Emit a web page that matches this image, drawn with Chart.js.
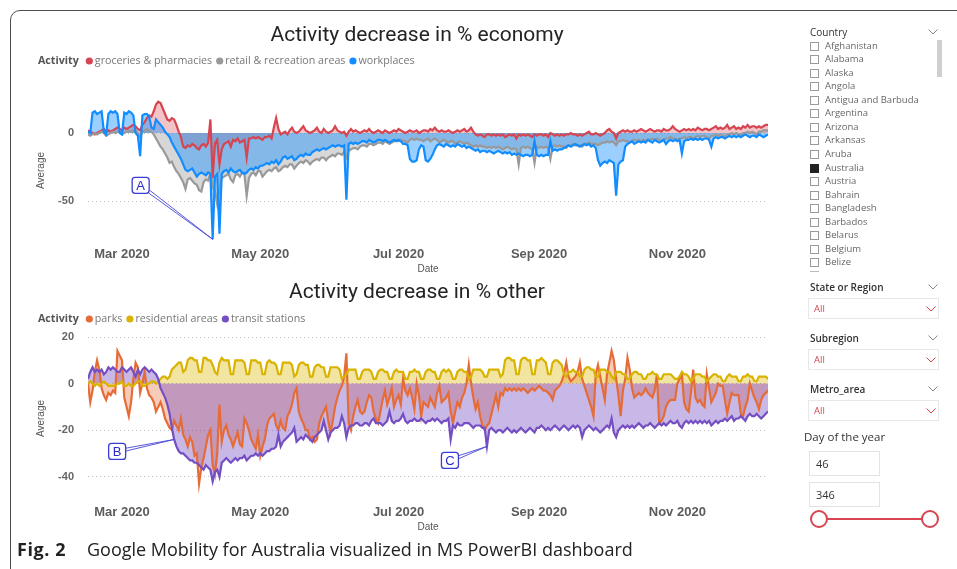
<!DOCTYPE html>
<html>
<head>
<meta charset="utf-8">
<script src="https://cdn.jsdelivr.net/npm/chart.js@4.4.1/dist/chart.umd.min.js"></script>
<style>
  body { margin: 0; width: 957px; height: 569px; background: #fff; position: relative; overflow: hidden; font-family: "Open Sans", sans-serif; }
  #frame { position: absolute; left: 10px; top: 10px; width: 1000px; height: 620px; border: 1.5px solid #4d4d4d; border-radius: 10px; box-sizing: border-box; }
  canvas { position: absolute; left: 20px; }
  #topChart { top: 18px; }
  #bottomChart { top: 280px; }
  .abs { position: absolute; white-space: nowrap; }
  .chev { position: absolute; line-height: 0; }
  .chev svg { display: block; }
  .hdr { font-size: 10px; color: #333; font-weight: 600; }
  .item { font-size: 9.5px; color: #666; line-height: 12px; }
  .box { position: absolute; width: 9px; height: 9px; border: 1px solid #9a9a9a; box-sizing: border-box; }
  .drop { position: absolute; left: 808px; width: 131px; height: 21px; border: 1px solid #e8e8e8; box-sizing: border-box; }
  .drop span { position: absolute; left: 5px; top: 3px; font-size: 9.5px; color: #d64550; }
  .input { position: absolute; left: 809px; width: 71px; height: 25px; border: 1px solid #e3e3e3; box-sizing: border-box; font-size: 11px; color: #333; padding: 4px 6px; }
  #cap { left: 17px; top: 537px; font-size: 18px; color: #222; }
  #cap b { display: inline-block; width: 70px; letter-spacing: 0.6px; }
</style>
</head>
<body>
<div id="frame"></div>
<canvas id="topChart" width="794" height="262"></canvas>
<canvas id="bottomChart" width="794" height="260"></canvas>
<div id="side"></div>
<div id="cap" class="abs"><b>Fig. 2</b>Google Mobility for Australia visualized in MS PowerBI dashboard</div>
<script>
// ---- data: daily values, day of year 46 (15 Feb) .. 346 (11 Dec), one week per row ----
const startDay = 46;
const tickDays = [61, 122, 183, 245, 306];
const tickLabels = ['Mar 2020', 'May 2020', 'Jul 2020', 'Sep 2020', 'Nov 2020'];
const economyTicks = [0, -50];
const otherTicks = [20, 0, -20, -40];

const groceries = [
  2, 1, 0, -1, 0, 1, 2,
  3, 1, 2, 1, 2, 3, 4,
  3, 2, 4, 3, 4, 5, 6,
  5, 3, 2, 6, 8, 11, 13,
  12, 16, 21, 23, 22, 18, 14,
  10, 9, 11, 10, 6, 1, -3,
  -10, -11, -9, -10, -8, -9, -11,
  -12, -9, -8, -10, -7, 10, -33,
  -8, -5, -23, -12, -8, -7, -6,
  -10, -5, -6, -4, -7, -6, -5,
  -18, -4, -4, -3, -4, -3, -4,
  -5, -3, -3, -2, -4, 4, 11,
  3, -1, 0, 1, -1, 2, 4,
  1, 0, 1, 3, 5, 2, 1,
  0, 1, 2, 4, 1, 0, 3,
  1, 0, 1, 2, 5, 2, 1,
  0, 1, -2, 1, 3, 1, 2,
  1, 0, 1, 2, 1, 3, 1,
  0, 1, 2, 1, 0, 2, 1,
  0, 1, 2, 1, 3, 2, 1,
  0, 1, 2, 1, 1, 2, 0,
  1, 2, 2, 1, 3, 2, 4,
  2, 1, 2, 1, 1, 2, 1,
  0, 1, 2, 1, 2, 3, 1,
  2, 4, 1, -1, -2, -1, -2,
  -3, -1, -1, -2, -1, -2, -1,
  -2, -1, -3, -2, -1, -2, -1,
  -4, -1, -2, -1, -2, -1, -2,
  -3, -1, -2, -1, -1, -2, -1,
  -3, 0, -1, -2, -1, -2, -1,
  -2, -1, -1, 0, -1, -1, -2,
  -1, -2, -1, 0, 1, -1, -1,
  0, -1, -2, -1, 0, 2, 3,
  1, 0, -4, 0, 1, 2, 1,
  2, 1, 1, 2, 1, 2, 3,
  2, 1, 2, 3, 2, 1, 2,
  2, 1, 3, 2, 2, 3, 5,
  3, 2, 1, 2, 3, 2, 3,
  2, 3, 2, 4, 3, 2, 3,
  3, 2, 3, 4, 5, 3, 4,
  3, 4, 6, 3, 4, 5, 3,
  4, 3, 5, 4, 6, 4, 5,
  5, 4, 5, 4, 5, 6, 6
];

const retail = [
  -1, -2, -1, 0, -1, 0, 1,
  0, -2, -1, 0, 1, 0, 1,
  1, -1, 0, 1, 2, 1, 2,
  2, 0, -3, 1, 2, 3, 2,
  1, -1, -4, -7, -10, -12, -15,
  -18, -22, -21, -25, -28, -30, -33,
  -36, -41, -34, -33, -35, -37, -38,
  -42, -43, -36, -34, -35, -30, -40,
  -42, -52, -40, -33, -32, -31, -30,
  -34, -36, -31, -30, -32, -29, -30,
  -46, -33, -30, -29, -31, -28, -28,
  -32, -30, -28, -27, -28, -26, -25,
  -28, -27, -25, -24, -25, -23, -23,
  -26, -24, -22, -21, -22, -20, -21,
  -23, -21, -20, -19, -20, -18, -18,
  -20, -18, -17, -16, -17, -15, -15,
  -16, -14, -18, -13, -12, -11, -11,
  -12, -10, -9, -9, -10, -8, -8,
  -9, -8, -7, -7, -8, -6, -7,
  -8, -7, -6, -5, -6, -5, -6,
  -6, -7, -5, -4, -5, -4, -5,
  -5, -6, -5, -4, -6, -5, -4,
  -5, -7, -6, -5, -6, -7, -6,
  -6, -8, -7, -6, -7, -8, -7,
  -8, -9, -10, -9, -10, -9, -10,
  -10, -11, -10, -11, -10, -11, -10,
  -11, -12, -11, -10, -11, -12, -11,
  -12, -23, -11, -10, -11, -10, -11,
  -12, -22, -10, -11, -10, -11, -10,
  -11, -19, -10, -9, -10, -9, -10,
  -10, -11, -9, -9, -8, -9, -9,
  -9, -10, -8, -8, -7, -8, -8,
  -8, -9, -8, -7, -7, -6, -7,
  -6, -7, -9, -6, -6, -5, -6,
  -6, -7, -6, -5, -6, -5, -6,
  -5, -6, -5, -5, -4, -5, -4,
  -5, -6, -5, -4, -4, -3, -4,
  -4, -5, -4, -4, -3, -4, -3,
  -3, -4, -3, -2, -3, -2, -2,
  -3, -4, -2, -2, -1, -2, -1,
  -2, -3, -1, -1, 0, -1, 0,
  -1, -2, 0, 0, 1, 0, 1,
  0, -1, 1, 1, 2, 2, 2
];

const workplaces = [
  1, 0, 15, 16, 14, 15, 16,
  1, -1, 14, 16, 15, 16, 14,
  0, -1, 15, 14, 16, 15, 13,
  0, -2, -17, 13, 14, 14, 12,
  4, 3, 10, 8, 6, 4, 1,
  -1, -3, -7, -10, -13, -16, -19,
  -23, -27, -28, -27, -26, -29, -32,
  -30, -29, -30, -31, -29, -30, -78,
  -32, -30, -74, -30, -28, -27, -29,
  -26, -28, -29, -28, -27, -29, -30,
  -29, -27, -26, -27, -25, -26, -24,
  -24, -23, -22, -23, -21, -22, -20,
  -23, -21, -18, -17, -19, -18, -17,
  -20, -19, -17, -16, -17, -15, -16,
  -16, -14, -13, -12, -13, -12, -11,
  -12, -11, -10, -9, -10, -9, -9,
  -10, -9, -49, -8, -7, -8, -7,
  -8, -7, -6, -6, -7, -5, -6,
  -7, -6, -5, -5, -6, -5, -6,
  -7, -6, -5, -6, -5, -6, -8,
  -8, -9, -19, -21, -21, -20, -12,
  -9, -10, -20, -21, -19, -16, -12,
  -9, -8, -9, -10, -8, -9, -10,
  -9, -10, -8, -9, -10, -9, -11,
  -10, -11, -12, -13, -12, -14, -13,
  -13, -14, -13, -14, -15, -14, -13,
  -14, -15, -14, -15, -14, -16, -15,
  -16, -15, -16, -17, -16, -16, -17,
  -16, -6, -16, -17, -16, -17, -16,
  -16, -6, -13, -12, -13, -12, -12,
  -11, -10, -9, -10, -9, -8, -9,
  -10, -9, -8, -9, -8, -10, -9,
  -11, -20, -24, -22, -21, -22, -20,
  -21, -22, -46, -23, -21, -20, -10,
  -8, -7, -6, -8, -7, -6, -7,
  -6, -7, -5, -6, -7, -5, -6,
  -7, -6, -5, -8, -6, -5, -6,
  -5, -6, -5, -15, -6, -5, -5,
  -4, -5, -4, -5, -4, -5, -4,
  -4, -5, -10, -4, -3, -4, -3,
  -3, -4, -3, -2, -3, -2, -3,
  -2, -3, -2, -1, -2, -3, -2,
  -2, -3, -1, -2, -3, -2, -1
];

const parks = [
  0, -8, -3, 5, 10, 6, -2,
  -5, -7, -4, -5, -3, -4, 14,
  12, 10, -6, -10, -14, -8, 2,
  9, 7, -4, 0, 5, -2, -5,
  -6, -8, -12, -10, -8, -11, -15,
  -17, -19, -20, -16, -18, -20, -15,
  -22, -24, -27, -23, -25, -31, -30,
  -43, -36, -32, -27, -22, -20, -35,
  -39, -30, -9, -25, -20, -18, -22,
  -24, -27, -24, -21, -26, -27, -15,
  -17, -20, -24, -26, -28, -22, -31,
  -27, -24, -18, -15, -14, -13, -18,
  -20, -16, -19, -20, -14, -12, -9,
  -4, -2, -12, -15, -17, -20, -20,
  -24, -23, -25, -24, -17, -14, -12,
  -10, -16, -21, -16, -10, -6, -3,
  -1, 3, 13, -17, -20, -14, -10,
  -7, -12, -13, -12, -8, -5, -6,
  -12, -15, -17, -12, -7, -3, -9,
  -6, -2, -10, -7, -5, -9, 2,
  -3, -5, -2, -6, -11, 0, -5,
  -14, -8, -9, -10, -6, -8, -10,
  -4, -1, -8, -7, -6, -4, -12,
  -17, -12, -8, -10, -6, -4, 0,
  8, 0, -6, -11, -8, -14, -18,
  -20, -18, -17, -13, -9, -5, -10,
  -4, -5, -2, -3, -2, -3, -2,
  -3, -2, -3, -2, -3, -4, -3,
  -2, -3, -2, -1, -2, -3, -3,
  -4, -5, -7, -3, -2, -1, 1,
  4, 9, 3, 1, 2, 3, 5,
  9, 2, -1, -4, -7, -10, -14,
  4, 8, 3, -2, -7, 4, 9,
  14, 10, 2, -5, -14, -3, 2,
  11, 6, -2, -6, -5, -4, -5,
  -4, -2, -4, -5, -6, -3, 4,
  -17, -16, -14, -10, -8, -7, -7,
  -7, 0, 2, 4, -8, -11, -12,
  -4, 6, -6, -8, -7, -9, -10,
  4, -2, -8, -6, -4, 0, -1,
  -1, -7, -13, -8, -4, -5, -5,
  -5, -13, -14, -10, -7, 0, -3,
  -6, -8, -11, -7, -5, -4, -3
];

const residential = [
  0, 1, 0, -1, 0, -1, 0,
  1, 0, -1, -1, -1, -1, 0,
  0, 1, -1, -1, 0, -1, -1,
  0, 1, 1, -1, -1, 0, 0,
  1, 1, 0, 1, 2, 3, 3,
  2, 3, 6, 7, 8, 9, 9,
  5, 6, 10, 11, 11, 10, 10,
  5, 5, 11, 11, 10, 10, 8,
  5, 4, 9, 11, 10, 10, 10,
  4, 4, 10, 10, 10, 10, 9,
  4, 4, 10, 10, 10, 9, 9,
  4, 4, 9, 10, 9, 9, 8,
  4, 4, 9, 9, 9, 9, 8,
  3, 4, 8, 9, 9, 8, 8,
  3, 3, 7, 8, 8, 7, 7,
  3, 3, 7, 7, 7, 7, 6,
  2, 3, 4, 6, 6, 6, 6,
  2, 2, 5, 6, 6, 6, 5,
  2, 2, 5, 6, 6, 5, 5,
  2, 2, 5, 6, 5, 5, 5,
  2, 2, 5, 5, 6, 5, 5,
  2, 2, 5, 6, 6, 5, 5,
  2, 2, 5, 6, 5, 6, 5,
  2, 2, 5, 6, 6, 5, 5,
  2, 3, 6, 6, 6, 6, 5,
  3, 3, 6, 6, 6, 6, 6,
  3, 4, 10, 11, 11, 10, 10,
  4, 4, 10, 11, 11, 10, 10,
  4, 4, 10, 10, 11, 10, 9,
  4, 4, 9, 10, 10, 9, 8,
  4, 3, 5, 5, 6, 5, 5,
  3, 3, 6, 7, 7, 6, 6,
  3, 3, 6, 6, 6, 5, 5,
  3, 2, 5, 5, 5, 4, 4,
  2, 2, 4, 5, 5, 4, 4,
  2, 2, 4, 4, 5, 4, 4,
  2, 2, 4, 4, 4, 4, 3,
  2, 2, 3, 5, 4, 4, 3,
  1, 2, 4, 4, 4, 3, 3,
  1, 2, 3, 4, 4, 3, 3,
  1, 1, 3, 4, 3, 3, 3,
  1, 1, 3, 3, 4, 3, 3,
  1, 1, 3, 3, 3, 3, 2
];

const transit = [
  2, 5, 7, 5, 6, 5, 6,
  4, 5, 7, 6, 7, 6, 5,
  5, 7, 6, 5, 6, 7, 5,
  3, 6, 4, 6, 7, 6, 5,
  6, 5, 4, 2, -2, -4, -6,
  -9, -13, -19, -24, -27, -29, -30,
  -30, -31, -32, -33, -33, -34, -34,
  -35, -36, -37, -35, -36, -37, -42,
  -38, -37, -40, -34, -33, -32, -33,
  -34, -33, -32, -33, -32, -32, -31,
  -33, -32, -31, -31, -30, -31, -30,
  -31, -30, -29, -29, -28, -28, -27,
  -22, -27, -25, -24, -23, -22, -21,
  -19, -25, -24, -23, -24, -22, -23,
  -24, -25, -23, -22, -21, -20, -16,
  -20, -24, -21, -20, -19, -19, -18,
  -14, -17, -23, -19, -18, -18, -17,
  -17, -18, -18, -17, -17, -18, -16,
  -15, -17, -17, -17, -18, -17, -16,
  -12, -16, -17, -16, -16, -15, -13,
  -16, -17, -16, -16, -15, -16, -16,
  -15, -16, -17, -16, -16, -15, -16,
  -15, -16, -17, -16, -16, -15, -24,
  -18, -19, -17, -18, -18, -17, -17,
  -17, -18, -19, -18, -18, -18, -19,
  -19, -27, -20, -19, -20, -21, -20,
  -20, -21, -20, -19, -20, -21, -20,
  -21, -20, -19, -20, -21, -20, -19,
  -20, -21, -19, -19, -18, -19, -20,
  -19, -20, -19, -18, -19, -20, -19,
  -18, -19, -20, -19, -18, -19, -18,
  -19, -23, -20, -19, -18, -19, -20,
  -19, -20, -21, -20, -19, -18, -19,
  -15, -21, -23, -20, -19, -18, -19,
  -18, -19, -18, -19, -18, -17, -18,
  -19, -18, -18, -17, -18, -19, -18,
  -17, -18, -17, -18, -17, -16, -17,
  -17, -16, -18, -19, -17, -16, -17,
  -16, -17, -16, -17, -16, -17, -16,
  -17, -16, -18, -17, -16, -17, -16,
  -16, -15, -16, -15, -14, -16, -15,
  -15, -14, -15, -16, -14, -13, -14,
  -14, -13, -14, -15, -14, -13, -12
];

const countries = ['Afghanistan', 'Alabama', 'Alaska', 'Angola', 'Antigua and Barbuda', 'Argentina', 'Arizona',
  'Arkansas', 'Aruba', 'Australia', 'Austria', 'Bahrain', 'Bangladesh', 'Barbados', 'Belarus', 'Belgium', 'Belize'];
const selectedCountry = 'Australia';
const dropdowns = ['State or Region', 'Subregion', 'Metro_area'];
const dayRange = [46, 346];

// ---- helpers ----
function toPoints(values) {
  return values.map((v, i) => ({ x: startDay + i, y: v }));
}

// drawOrder: higher is painted first (further back)
function area(label, values, color, fill, drawOrder) {
  return {
    label: label,
    data: toPoints(values),
    borderColor: color,
    backgroundColor: fill,
    fill: 'origin',
    borderWidth: 2.2,
    pointRadius: 0,
    tension: 0,
    order: drawOrder
  };
}

// Title, "Activity" legend row and A/B/C callouts
const decorPlugin = {
  id: 'decor',
  afterDraw(chart, args, opts) {
    const ctx = chart.ctx;
    ctx.save();
    ctx.textBaseline = 'middle';

    ctx.font = '21px Roboto';
    ctx.fillStyle = '#252423';
    ctx.textAlign = 'center';
    ctx.fillText(opts.title, opts.titleX, opts.titleY);

    ctx.textAlign = 'left';
    let x = opts.legendX;
    const y = opts.legendY;
    ctx.font = 'bold 10.7px "Open Sans"';
    ctx.fillStyle = '#555';
    ctx.fillText('Activity', x, y);
    x += ctx.measureText('Activity').width + 7;
    ctx.font = '10.7px "Open Sans"';
    chart.data.datasets.forEach(ds => {
      ctx.beginPath();
      ctx.arc(x + 3.5, y, 3.6, 0, Math.PI * 2);
      ctx.fillStyle = ds.borderColor;
      ctx.fill();
      x += 9;
      ctx.fillStyle = '#777';
      ctx.fillText(ds.label, x, y);
      x += ctx.measureText(ds.label).width + 4;
    });

    // callouts pointing to a data point
    opts.notes.forEach(n => {
      const pt = chart.data.datasets[n.series].data[n.day - startDay];
      const tx = chart.scales.x.getPixelForValue(pt.x);
      const ty = chart.scales.y.getPixelForValue(pt.y);
      const cx = tx + n.dx, cy = ty + n.dy;
      const w = 17, h = 16;
      const vx = tx - cx, vy = ty - cy;
      const len = Math.hypot(vx, vy);
      const ux = vx / len, uy = vy / len;
      const t = Math.min((w / 2) / Math.abs(ux || 1e-6), (h / 2) / Math.abs(uy || 1e-6));
      const sx = cx + ux * t, sy = cy + uy * t;
      ctx.strokeStyle = '#4646d6';
      ctx.lineWidth = 0.9;
      [-1.4, 1.4].forEach(o => {
        ctx.beginPath();
        ctx.moveTo(sx - uy * o, sy + ux * o);
        ctx.lineTo(tx, ty);
        ctx.stroke();
      });
      ctx.beginPath();
      ctx.roundRect(cx - w / 2, cy - h / 2, w, h, 3);
      ctx.fillStyle = '#fff';
      ctx.fill();
      ctx.lineWidth = 1.3;
      ctx.strokeStyle = '#3b3bd8';
      ctx.stroke();
      ctx.font = '13px "Liberation Sans"';
      ctx.fillStyle = '#2a2ad0';
      ctx.textAlign = 'center';
      ctx.fillText(n.label, cx, cy + 1);
      ctx.textAlign = 'left';
    });
    ctx.restore();
  }
};

function panelOptions(cfg) {
  return {
    responsive: false,
    animation: false,
    layout: { padding: { top: cfg.padTop, left: 10, right: 46, bottom: 0 } },
    plugins: {
      legend: { display: false },
      tooltip: { enabled: false },
      filler: { drawTime: 'beforeDatasetsDraw' },
      decor: cfg.decor
    },
    scales: {
      x: {
        type: 'linear',
        min: 46,
        max: 346,
        grid: { display: false, drawTicks: false },
        border: { display: false },
        afterBuildTicks: s => { s.ticks = tickDays.map(v => ({ value: v })); },
        afterFit: s => { s.height = cfg.xHeight; },
        ticks: {
          autoSkip: false,
          maxRotation: 0,
          padding: 5,
          color: '#5b5b5b',
          font: { family: 'Liberation Sans', weight: 'bold', size: 13 },
          callback: v => tickLabels[tickDays.indexOf(v)]
        },
        title: {
          display: true,
          text: 'Date',
          color: '#555',
          font: { family: 'Liberation Sans', size: 10 },
          padding: { top: 0, bottom: cfg.datePad }
        }
      },
      y: {
        min: cfg.min,
        max: cfg.max,
        afterBuildTicks: s => { s.ticks = cfg.ticks.map(v => ({ value: v })); },
        afterFit: s => { s.width = 58; },
        grid: { color: '#bdbdbd', lineWidth: 1, drawTicks: false },
        border: { display: false, dash: [1, 3] },
        ticks: {
          padding: 14,
          color: '#666',
          font: { family: 'Liberation Sans', weight: 'bold', size: 11 },
          callback: v => String(v)
        },
        title: {
          display: true,
          text: 'Average',
          color: '#555',
          font: { family: 'Liberation Sans', size: 10 },
          padding: { top: 5, bottom: 0 }
        }
      }
    }
  };
}

new Chart(document.getElementById('topChart'), {
  type: 'line',
  data: {
    datasets: [
      area('groceries & pharmacies', groceries, '#d64550', 'rgba(214,69,80,0.32)', 2),
      area('retail & recreation areas', retail, '#999999', 'rgba(150,150,150,0.38)', 1),
      area('workplaces', workplaces, '#118dff', 'rgba(17,141,255,0.42)', 0)
    ]
  },
  options: panelOptions({
    padTop: 81, xHeight: 38, datePad: 5, min: -80, max: 25, ticks: economyTicks,
    decor: {
      title: 'Activity decrease in % economy', titleX: 397, titleY: 18, legendX: 18, legendY: 43,
      notes: [{ label: 'A', series: 2, day: 101, dx: -72, dy: -54 }]
    }
  }),
  plugins: [decorPlugin]
});

new Chart(document.getElementById('bottomChart'), {
  type: 'line',
  data: {
    datasets: [
      area('parks', parks, '#e66c37', 'rgba(230,108,55,0.35)', 2),
      area('residential areas', residential, '#d9b300', 'rgba(224,190,30,0.42)', 1),
      area('transit stations', transit, '#744ec2', 'rgba(116,78,194,0.40)', 0)
    ]
  },
  options: panelOptions({
    padTop: 57, xHeight: 40, datePad: 7, min: -50, max: 20, ticks: otherTicks,
    decor: {
      title: 'Activity decrease in % other', titleX: 397, titleY: 13, legendX: 18, legendY: 39,
      notes: [
        { label: 'B', series: 2, day: 84, dx: -57, dy: 12 },
        { label: 'C', series: 2, day: 222, dx: -37, dy: 14 }
      ]
    }
  }),
  plugins: [decorPlugin]
});

// ---- slicer panel ----
const chevron = (color) => '<svg width="10" height="6"><polyline points="0.5,0.5 5,5 9.5,0.5" fill="none" stroke="' + color + '" stroke-width="1"/></svg>';
let html = '';
html += '<div class="abs hdr" style="left:810px;top:25px;font-weight:400">Country</div>';
html += '<div class="chev" style="left:928px;top:29px">' + chevron('#888') + '</div>';
html += '<div class="abs" style="left:937px;top:40px;width:5px;height:37px;background:#cfcfcf"></div>';
countries.forEach((c, i) => {
  const yc = 46 + i * 13.56;
  const fill = c === selectedCountry ? 'background:#222;border-color:#222;' : '';
  html += '<div class="box" style="left:810px;top:' + (yc - 4.5) + 'px;' + fill + '"></div>';
  html += '<div class="abs item" style="left:825px;top:' + (yc - 6.5) + 'px">' + c + '</div>';
});
html += '<div class="abs" style="left:810px;top:271px;width:9px;height:1px;background:#bbb"></div>';
dropdowns.forEach((d, i) => {
  const y = 287 + i * 51;
  html += '<div class="abs hdr" style="left:810px;top:' + (y - 7) + 'px">' + d + '</div>';
  html += '<div class="chev" style="left:928px;top:' + (y - 3) + 'px">' + chevron('#888') + '</div>';
  html += '<div class="drop" style="top:' + (y + 11) + 'px"><span>All</span>'
        + '<div class="chev" style="left:117px;top:7px">' + chevron('#d64550') + '</div></div>';
});
html += '<div class="abs" style="left:804px;top:429px;font-size:11.5px;color:#333">Day of the year</div>';
html += '<div class="input" style="top:451px">' + dayRange[0] + '</div>';
html += '<div class="input" style="top:482px">' + dayRange[1] + '</div>';
html += '<div class="abs" style="left:819px;top:518px;width:111px;height:2px;background:#d64550"></div>';
html += '<div class="abs" style="left:810px;top:510px;width:18px;height:18px;border:2px solid #d64550;border-radius:50%;background:#fff;box-sizing:border-box"></div>';
html += '<div class="abs" style="left:921px;top:510px;width:18px;height:18px;border:2px solid #d64550;border-radius:50%;background:#fff;box-sizing:border-box"></div>';
document.getElementById('side').innerHTML = html;
</script>
</body>
</html>
